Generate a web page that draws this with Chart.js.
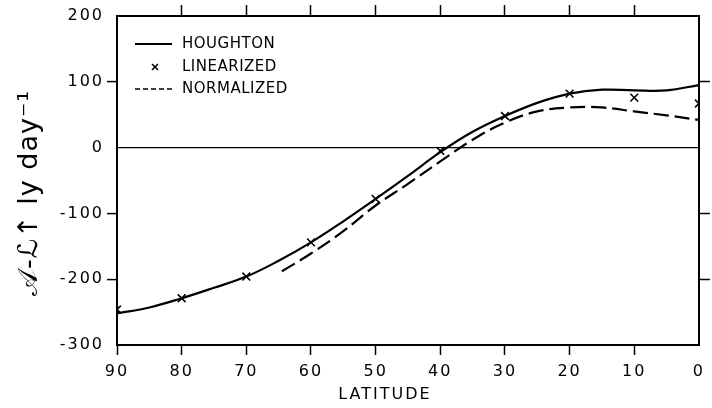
<!DOCTYPE html>
<html>
<head>
<meta charset="utf-8">
<script src="https://cdn.jsdelivr.net/npm/chart.js@4.4.1/dist/chart.umd.min.js"></script>
<style>
  html, body { margin: 0; padding: 0; background: #fff; }
  #wrap { width: 712px; height: 408px; position: relative; }
</style>
</head>
<body>
<div id="wrap"><canvas id="c" width="712" height="408"></canvas></div>
<script>
// ---- data ----
const houghtonLat = [90, 85, 80, 75, 70, 65, 60, 55, 50, 45, 40, 35, 30, 25, 20, 15, 10, 5, 0];
const houghtonVal = [-252, -243, -229, -213, -196, -172, -144, -112, -78, -43, -7, 24, 48, 68, 82, 88, 87, 87, 95];

const linearizedLat = [90, 80, 70, 60, 50, 40, 30, 20, 10, 0];
const linearizedVal = [-246, -229, -196, -144, -78, -5, 48, 82, 76, 67];

const normalizedLat = [64.5, 60, 55, 50, 45, 40, 35, 30, 25, 20, 15, 10, 5, 0];
const normalizedVal = [-188, -161, -127, -88, -55, -21, 12, 38, 55, 61, 61, 55, 49, 42];

const seriesLabels = ['HOUGHTON', 'LINEARIZED', 'NORMALIZED'];
const xTitle = 'LATITUDE';
const yTitle = '𝒜-ℒ↑ ly day⁻¹';
const xTickValues = [90, 80, 70, 60, 50, 40, 30, 20, 10, 0];
const yTickValues = [200, 100, 0, -100, -200, -300];
const yMarkedTicks = [100, -100, -200];

const toPts = (xs, ys) => xs.map((x, i) => ({ x: x, y: ys[i] }));

const FONT = 'DejaVu Sans';

const spacingPlugin = {
  id: 'spacing',
  beforeUpdate(chart) { chart.ctx.letterSpacing = '2px'; },
  beforeDraw(chart) { chart.ctx.letterSpacing = '2px'; }
};

const annotPlugin = {
  id: 'annot',
  afterDraw(chart) {
    const ctx = chart.ctx;
    const ds = chart.data.datasets;
    ctx.save();
    ctx.letterSpacing = '0.5px';
    ctx.fillStyle = '#000';
    ctx.strokeStyle = '#000';
    ctx.font = '15px "' + FONT + '"';
    ctx.textBaseline = 'middle';
    ctx.textAlign = 'left';
    const lx0 = 135, lx1 = 172, tx = 182;
    const rows = [44, 67, 89];
    // solid sample
    ctx.lineWidth = 2;
    ctx.setLineDash([]);
    ctx.beginPath(); ctx.moveTo(lx0, rows[0]); ctx.lineTo(lx1, rows[0]); ctx.stroke();
    ctx.fillText(ds[0].label, tx, rows[0]);
    // cross sample
    ctx.lineWidth = 1.6;
    const cx = 155, cy = rows[1], r = 3;
    ctx.beginPath();
    ctx.moveTo(cx - r, cy - r); ctx.lineTo(cx + r, cy + r);
    ctx.moveTo(cx + r, cy - r); ctx.lineTo(cx - r, cy + r);
    ctx.stroke();
    ctx.fillText(ds[1].label, tx, rows[1]);
    // dashed sample
    ctx.lineWidth = 1.5;
    ctx.setLineDash([5, 3]);
    ctx.beginPath(); ctx.moveTo(lx0, rows[2]); ctx.lineTo(lx1, rows[2]); ctx.stroke();
    ctx.setLineDash([]);
    ctx.fillText(ds[2].label, tx, rows[2]);

    // x title
    ctx.font = '16px "' + FONT + '"';
    ctx.textAlign = 'center';
    ctx.letterSpacing = '2px';
    ctx.fillText(xTitle, 385, 395);

    // y title
    ctx.translate(37, 193);
    ctx.rotate(-Math.PI / 2);
    ctx.font = '27px "' + FONT + '"';
    ctx.textAlign = 'center';
    ctx.textBaseline = 'alphabetic';
    ctx.letterSpacing = '1px';
    ctx.fillText(yTitle, 0, 0);
    ctx.restore();
  }
};

const tickCol = (list) => (c) => (c.tick && list.includes(c.tick.value)) ? '#000' : 'rgba(0,0,0,0)';

new Chart(document.getElementById('c'), {
  type: 'scatter',
  data: {
    datasets: [
      {
        label: seriesLabels[0],
        data: toPts(houghtonLat, houghtonVal),
        showLine: true,
        borderColor: '#000',
        borderWidth: 2.2,
        pointRadius: 0,
        tension: 0.4,
        fill: false
      },
      {
        label: seriesLabels[1],
        data: toPts(linearizedLat, linearizedVal),
        showLine: false,
        pointStyle: 'crossRot',
        pointRadius: 5.5,
        borderColor: '#000',
        backgroundColor: '#000',
        pointBorderWidth: 1.6
      },
      {
        label: seriesLabels[2],
        data: toPts(normalizedLat, normalizedVal),
        showLine: true,
        borderColor: '#000',
        borderWidth: 2.2,
        borderDash: [15, 6],
        pointRadius: 0,
        tension: 0.4,
        fill: false
      }
    ]
  },
  options: {
    responsive: false,
    animation: false,
    devicePixelRatio: 1,
    layout: { padding: 0 },
    plugins: {
      legend: { display: false },
      tooltip: { enabled: false }
    },
    scales: {
      x: {
        type: 'linear', position: 'bottom', reverse: true, min: 0, max: 90,
        afterBuildTicks: (s) => { s.ticks = xTickValues.map(v => ({ value: v })); },
        afterFit: (s) => { s.height = 63; },
        ticks: { color: '#000', font: { family: FONT, size: 16 }, padding: 7, maxRotation: 0, autoSkip: false },
        grid: { drawOnChartArea: false, drawTicks: true, tickLength: 10, tickWidth: 1.5,
                tickColor: tickCol([90, 80, 70, 60, 50, 40, 30, 20, 10]) },
        border: { display: true, color: '#000', width: 2 }
      },
      x2: {
        type: 'linear', position: 'top', reverse: true, min: 0, max: 90,
        afterBuildTicks: (s) => { s.ticks = xTickValues.map(v => ({ value: v })); },
        afterFit: (s) => { s.height = 16; },
        ticks: { display: false },
        grid: { drawOnChartArea: false, drawTicks: true, tickLength: 11, tickWidth: 1.5,
                tickColor: tickCol([80, 70, 60, 50, 40, 30, 20, 10]) },
        border: { display: true, color: '#000', width: 2 }
      },
      y: {
        type: 'linear', position: 'left', min: -300, max: 200,
        afterBuildTicks: (s) => { s.ticks = yTickValues.map(v => ({ value: v })); },
        afterFit: (s) => { s.width = 117; },
        ticks: { color: '#000', font: { family: FONT, size: 16 }, padding: 3 },
        grid: { drawOnChartArea: true, drawTicks: true, tickLength: 10, tickWidth: 1.5, lineWidth: 1.2,
                color: (c) => (c.tick && c.tick.value === 0) ? '#000' : 'rgba(0,0,0,0)',
                tickColor: tickCol(yMarkedTicks) },
        border: { display: true, color: '#000', width: 2 }
      },
      y2: {
        type: 'linear', position: 'right', min: -300, max: 200,
        afterBuildTicks: (s) => { s.ticks = yTickValues.map(v => ({ value: v })); },
        afterFit: (s) => { s.width = 13; },
        ticks: { display: false },
        grid: { drawOnChartArea: false, drawTicks: true, tickLength: 11, tickWidth: 1.5,
                tickColor: tickCol(yMarkedTicks) },
        border: { display: true, color: '#000', width: 2 }
      }
    }
  },
  plugins: [spacingPlugin, annotPlugin]
});
</script>
</body>
</html>
